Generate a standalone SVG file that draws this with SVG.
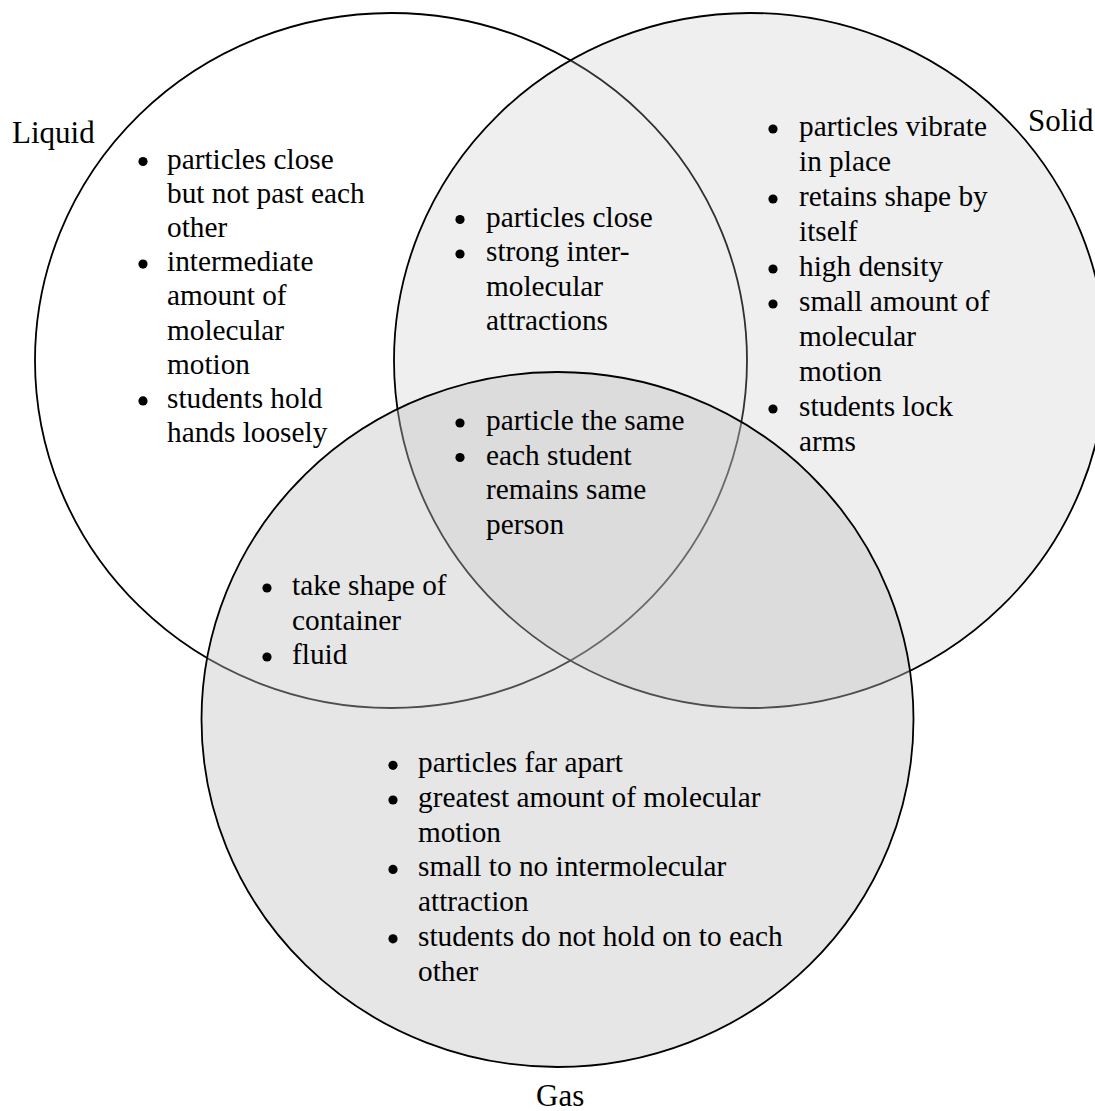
<svg xmlns="http://www.w3.org/2000/svg" width="1095" height="1111" viewBox="0 0 1095 1111">
<style>
.c{stroke:#000;stroke-width:1.8}
.liq{fill:none}
.sol{fill:#c0c0c0;fill-opacity:0.25}
.gas{fill:#c0c0c0;fill-opacity:0.4}
text{font-family:"Liberation Serif","Times New Roman",serif;fill:#000}
.t{font-size:29.3px}
.lbl{font-size:31px}
.b{fill:#000}
</style>
<rect width="1095" height="1111" fill="#fff"/>
<g id="node-liquid">
<ellipse class="c liq" cx="391" cy="360.5" rx="356" ry="347.5"/>
<text class="lbl" x="12" y="143">Liquid</text>
<circle class="b" cx="143" cy="161.5" r="4.6"/>
<text class="t" x="167" y="168.5">particles close</text>
<text class="t" x="167" y="202.7">but not past each</text>
<text class="t" x="167" y="236.9">other</text>
<circle class="b" cx="143" cy="264.1" r="4.6"/>
<text class="t" x="167" y="271.1">intermediate</text>
<text class="t" x="167" y="305.3">amount of</text>
<text class="t" x="167" y="339.5">molecular</text>
<text class="t" x="167" y="373.7">motion</text>
<circle class="b" cx="143" cy="400.9" r="4.6"/>
<text class="t" x="167" y="407.9">students hold</text>
<text class="t" x="167" y="442.1">hands loosely</text>
</g>
<g id="node-solid">
<ellipse class="c sol" cx="750" cy="360.5" rx="356" ry="347.5"/>
<text class="lbl" x="1028" y="131">Solid</text>
<circle class="b" cx="773" cy="129" r="4.6"/>
<text class="t" x="799" y="136">particles vibrate</text>
<text class="t" x="799" y="171">in place</text>
<circle class="b" cx="773" cy="199" r="4.6"/>
<text class="t" x="799" y="206">retains shape by</text>
<text class="t" x="799" y="241">itself</text>
<circle class="b" cx="773" cy="269" r="4.6"/>
<text class="t" x="799" y="276">high density</text>
<circle class="b" cx="773" cy="304" r="4.6"/>
<text class="t" x="799" y="311">small amount of</text>
<text class="t" x="799" y="346">molecular</text>
<text class="t" x="799" y="381">motion</text>
<circle class="b" cx="773" cy="409" r="4.6"/>
<text class="t" x="799" y="416">students lock</text>
<text class="t" x="799" y="451">arms</text>
</g>
<g id="node-gas">
<ellipse class="c gas" cx="557.5" cy="719.5" rx="356" ry="347.5"/>
<text class="lbl" x="536" y="1106">Gas</text>
<circle class="b" cx="393" cy="765.3" r="4.6"/>
<text class="t" x="418" y="772.3">particles far apart</text>
<circle class="b" cx="393" cy="800" r="4.6"/>
<text class="t" x="418" y="807">greatest amount of molecular</text>
<text class="t" x="418" y="841.7">motion</text>
<circle class="b" cx="393" cy="869.4" r="4.6"/>
<text class="t" x="418" y="876.4">small to no intermolecular</text>
<text class="t" x="418" y="911.1">attraction</text>
<circle class="b" cx="393" cy="938.8" r="4.6"/>
<text class="t" x="418" y="945.8">students do not hold on to each</text>
<text class="t" x="418" y="980.5">other</text>
</g>
<g id="region-liquid-solid">
<circle class="b" cx="460" cy="219.5" r="4.6"/>
<text class="t" x="486" y="226.5">particles close</text>
<circle class="b" cx="460" cy="254" r="4.6"/>
<text class="t" x="486" y="261">strong inter-</text>
<text class="t" x="486" y="295.5">molecular</text>
<text class="t" x="486" y="330">attractions</text>
</g>
<g id="region-all">
<circle class="b" cx="460" cy="423" r="4.6"/>
<text class="t" x="486" y="430">particle the same</text>
<circle class="b" cx="460" cy="457.5" r="4.6"/>
<text class="t" x="486" y="464.5">each student</text>
<text class="t" x="486" y="499">remains same</text>
<text class="t" x="486" y="533.5">person</text>
</g>
<g id="region-liquid-gas">
<circle class="b" cx="267" cy="588" r="4.6"/>
<text class="t" x="292" y="595">take shape of</text>
<text class="t" x="292" y="629.5">container</text>
<circle class="b" cx="267" cy="657" r="4.6"/>
<text class="t" x="292" y="664">fluid</text>
</g>
<g id="connectors"/>
</svg>
